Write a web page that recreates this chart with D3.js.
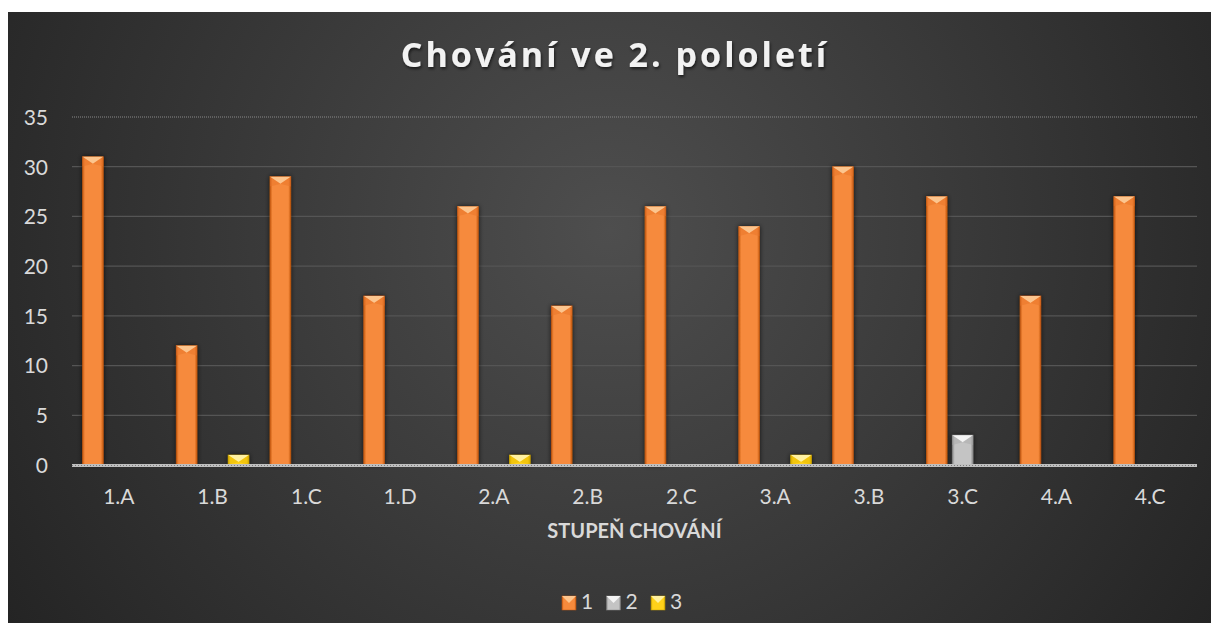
<!DOCTYPE html>
<html><head><meta charset="utf-8">
<script src="https://cdn.jsdelivr.net/npm/d3@7/dist/d3.min.js"></script>
<style>
html,body{margin:0;padding:0;background:#fff;}
svg{display:block;}
</style></head>
<body>
<svg id="chart" width="1219" height="635"></svg>
<script>
const categories = ["1.A","1.B","1.C","1.D","2.A","2.B","2.C","3.A","3.B","3.C","4.A","4.C"];
const seriesNames = ["1","2","3"];
const series1 = [31,12,29,17,26,16,26,24,30,27,17,27];
const series2 = [0,0,0,0,0,0,0,0,0,3,0,0];
const series3 = [0,1,0,0,1,0,0,1,0,0,0,0];
const yTicks = [0,5,10,15,20,25,30,35];
const title = "Chování ve 2. pololetí";
const xTitle = "STUPEŇ CHOVÁNÍ";

const allSeries = [series1, series2, series3];
const palette = [
  {mid:"#f68a3c", edge:"#c65a12", cap:"#fcc58e", capEdge:"#e8742a"},
  {mid:"#c4c4c4", edge:"#8a8a8a", cap:"#f4f4f4", capEdge:"#a9a9a9"},
  {mid:"#ffd21a", edge:"#c7a000", cap:"#fff1a0", capEdge:"#e6b800"}
];

const svg = d3.select("#chart");
const font = "Lato, 'Open Sans', sans-serif";

const defs = svg.append("defs");
const bg = defs.append("radialGradient").attr("id","bg")
  .attr("gradientUnits","userSpaceOnUse").attr("cx",610).attr("cy",230).attr("r",720);
bg.append("stop").attr("offset","0").attr("stop-color","#4e4e4e");
bg.append("stop").attr("offset","1").attr("stop-color","#242424");

palette.forEach((p,i)=>{
  const g = defs.append("linearGradient").attr("id","bar"+i).attr("x1","0").attr("x2","1").attr("y1","0").attr("y2","0");
  g.append("stop").attr("offset","0").attr("stop-color",p.edge);
  g.append("stop").attr("offset","0.12").attr("stop-color",p.mid);
  g.append("stop").attr("offset","0.88").attr("stop-color",p.mid);
  g.append("stop").attr("offset","1").attr("stop-color",p.edge);
});
const sh = defs.append("filter").attr("id","shadow").attr("x","-50%").attr("y","-50%").attr("width","200%").attr("height","200%");
sh.append("feGaussianBlur").attr("in","SourceAlpha").attr("stdDeviation",2.5).attr("result","b");
sh.append("feComponentTransfer").attr("in","b").attr("result","o2").append("feFuncA").attr("type","linear").attr("slope",0.7);
const m = sh.append("feMerge"); m.append("feMergeNode").attr("in","o2"); m.append("feMergeNode").attr("in","SourceGraphic");
const tsh = defs.append("filter").attr("id","tshadow").attr("x","-10%").attr("y","-30%").attr("width","120%").attr("height","160%");
tsh.append("feDropShadow").attr("dx",1).attr("dy",2).attr("stdDeviation",1.5).attr("flood-color","#000").attr("flood-opacity",0.6);

svg.append("rect").attr("x",8).attr("y",12).attr("width",1203).attr("height",611).attr("fill","url(#bg)");

const plot = {left:72, right:1197, top:117, bottom:465};
const x = d3.scaleBand().domain(categories).range([plot.left, plot.right]).paddingInner(0.225).paddingOuter(0.112);
const xs = d3.scaleBand().domain(seriesNames).range([0, x.bandwidth()]).paddingInner(0.2);
const y = d3.scaleLinear().domain([0,35]).range([plot.bottom, plot.top]);

// gridlines
svg.append("g").selectAll("line").data(yTicks.filter(t=>t>0 && t<35)).join("line")
  .attr("x1",plot.left).attr("x2",plot.right)
  .attr("y1",d=>y(d)).attr("y2",d=>y(d))
  .attr("stroke","#555").attr("stroke-width",1.3);
svg.append("line").attr("x1",plot.left).attr("x2",plot.right).attr("y1",y(35)).attr("y2",y(35))
  .attr("stroke","#8a8a8a").attr("stroke-width",1).attr("stroke-dasharray","1,1");

// y axis labels
const yAxis = d3.axisLeft(y).tickValues(yTicks).tickSize(0).tickPadding(0);
const yg = svg.append("g").attr("transform",`translate(${plot.left-24},0)`).call(yAxis);
yg.select(".domain").remove();
yg.selectAll("text").attr("fill","#d9d9d9").attr("font-family",font).attr("font-size",21).attr("dy","0.35em");

// bars
const barData = [];
allSeries.forEach((s,si)=>s.forEach((v,ci)=>{ if(v>0) barData.push({si, ci, v}); }));
const bars = svg.append("g").selectAll("g").data(barData).join("g").attr("filter","url(#shadow)");
bars.each(function(d){
  const g = d3.select(this);
  const bx = x(categories[d.ci]) + xs(seriesNames[d.si]);
  const bw = xs.bandwidth();
  const by = y(d.v), bh = y(0) - y(d.v);
  const p = palette[d.si];
  g.append("rect").attr("x",bx).attr("y",by).attr("width",bw).attr("height",bh).attr("fill",`url(#bar${d.si})`)
    .attr("stroke",p.edge).attr("stroke-width",0.6);
  const capH = Math.min(7, bh);
  g.append("path").attr("d",`M${bx},${by} L${bx+bw},${by} L${bx+bw/2},${by+capH} Z`).attr("fill",p.cap);
  g.append("path").attr("d",`M${bx},${by} L${bx+bw/2},${by+capH} L${bx},${by+capH*1.4} Z`).attr("fill",p.capEdge).attr("opacity",0.5);
  g.append("path").attr("d",`M${bx+bw},${by} L${bx+bw/2},${by+capH} L${bx+bw},${by+capH*1.4} Z`).attr("fill",p.capEdge).attr("opacity",0.5);
});

// baseline
svg.append("line").attr("x1",plot.left).attr("x2",plot.right).attr("y1",y(0)+0.5).attr("y2",y(0)+0.5)
  .attr("stroke","#bfbfbf").attr("stroke-width",3);
svg.append("line").attr("x1",plot.left).attr("x2",plot.right).attr("y1",y(0)+0.5).attr("y2",y(0)+0.5)
  .attr("stroke","#777").attr("stroke-width",1).attr("stroke-dasharray","1,2");

// x axis labels
const xAxis = d3.axisBottom(x).tickSize(0).tickPadding(0);
const xg = svg.append("g").attr("transform",`translate(0,${plot.bottom+32})`).call(xAxis);
xg.select(".domain").remove();
xg.selectAll("text").attr("fill","#d9d9d9").attr("font-family",font).attr("font-size",21).attr("dy","0.35em");

// axis title
svg.append("text").attr("x",(plot.left+plot.right)/2).attr("y",533).attr("text-anchor","middle")
  .attr("dominant-baseline","middle").attr("fill","#d9d9d9").attr("font-family",font)
  .attr("font-weight","bold").attr("font-size",20).text(xTitle);

// title
svg.append("text").attr("x",615).attr("y",58).attr("text-anchor","middle").attr("dominant-baseline","middle")
  .attr("fill","#f2f2f2").attr("font-family","'Open Sans', Lato, sans-serif").attr("font-weight","bold")
  .attr("font-size",34).attr("letter-spacing",3).attr("filter","url(#tshadow)").text(title);

// legend
const legItems = seriesNames.map((n,i)=>({n,i}));
const leg = svg.append("g").attr("transform","translate(562,603)");
let lx = 0;
legItems.forEach(d=>{
  const p = palette[d.i];
  const g = leg.append("g").attr("transform",`translate(${lx},0)`);
  g.append("rect").attr("x",0).attr("y",-7).attr("width",14).attr("height",14).attr("fill",`url(#bar${d.i})`).attr("stroke",p.edge).attr("stroke-width",0.5);
  g.append("path").attr("d","M0,-7 L14,-7 L7,0 Z").attr("fill",p.cap);
  g.append("text").attr("x",19).attr("y",1).attr("dominant-baseline","middle").attr("fill","#d9d9d9")
    .attr("font-family",font).attr("font-size",21).text(d.n);
  lx += 44.5;
});
</script>
</body></html>
